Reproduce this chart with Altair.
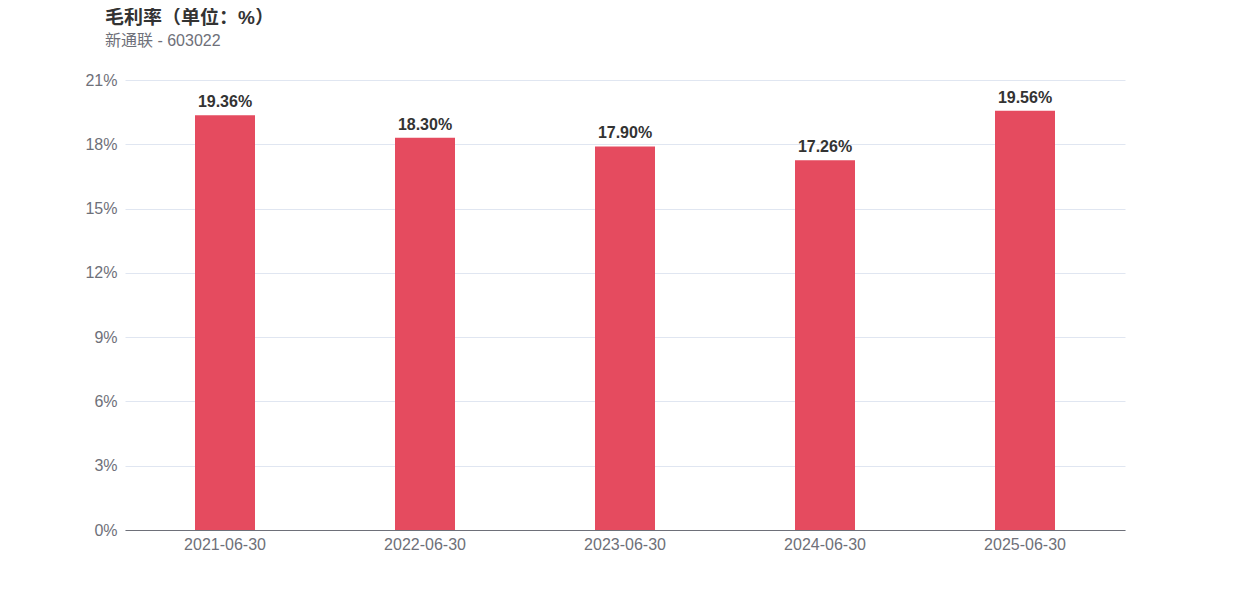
import altair as alt
import pandas as pd

dates = ["2021-06-30", "2022-06-30", "2023-06-30", "2024-06-30", "2025-06-30"]
margins = [19.36, 18.30, 17.90, 17.26, 19.56]

df = pd.DataFrame({"date": dates, "value": margins})
df["label"] = [f"{v:.2f}%" for v in margins]

FONT = "Liberation Sans, Arial, Noto Sans CJK SC"

x = alt.X("date:N", title=None, sort=None,
          scale=alt.Scale(paddingInner=0, paddingOuter=0),
          axis=alt.Axis(labelAngle=0, labelFontSize=16, labelColor="#6e7079",
                        labelPadding=6, ticks=False, domainColor="#6e7079",
                        grid=False, labelFont=FONT))
y = alt.Y("value:Q", title=None,
          scale=alt.Scale(domain=[0, 21], nice=False),
          axis=alt.Axis(values=[0, 3, 6, 9, 12, 15, 18, 21], labelExpr="datum.value + '%'",
                        labelFontSize=16, labelColor="#6e7079", labelPadding=8,
                        ticks=False, domain=False, grid=True, gridColor="#e0e6f1",
                        labelFont=FONT))

bars = alt.Chart(df).mark_bar(size=60, color="#e54b5f").encode(x=x, y=y)
text = alt.Chart(df).mark_text(dy=-13, fontSize=16, fontWeight="bold", color="#333333",
                               font=FONT).encode(x=x, y=y, text="label:N")

chart = (bars + text).properties(
    width=1000, height=450,
    title=alt.TitleParams(text="毛利率（单位：%）", subtitle="新通联 - 603022",
                          anchor="start", frame="group", dx=-20, offset=23,
                          fontSize=19, fontWeight="bold", color="#333333", font=FONT,
                          subtitleFontSize=16, subtitleColor="#6e7079", subtitleFont=FONT,
                          subtitlePadding=5),
    autosize=alt.AutoSizeParams(type="none"),
    padding={"left": 117, "top": 72, "right": 117, "bottom": 62},
).configure_view(stroke=None)

chart.save("out.html", embed_options={"renderer": "svg", "actions": False})
